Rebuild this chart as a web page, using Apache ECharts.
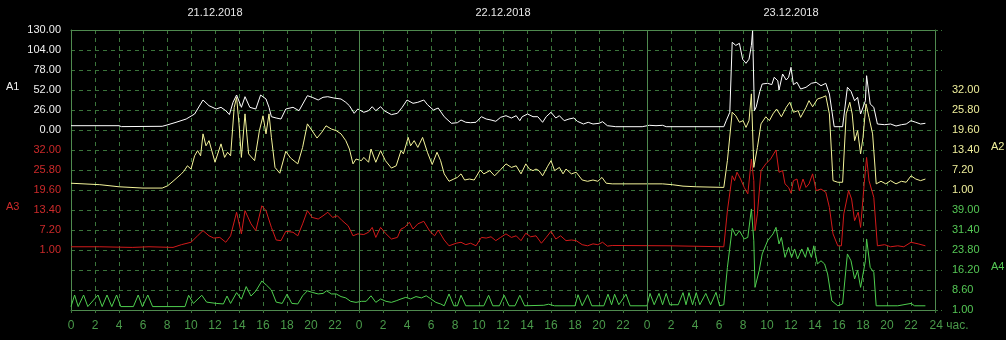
<!DOCTYPE html>
<html><head><meta charset="utf-8">
<script src="https://cdn.jsdelivr.net/npm/echarts@6/dist/echarts.min.js"></script>
<style>html,body{margin:0;padding:0;background:#000;}#c{width:1006px;height:340px;}</style>
</head><body><div id="c"></div>
<script>
// ---- data ----
const dates = ['21.12.2018', '22.12.2018', '23.12.2018'];
const dateHours = [12, 36, 60];
const a1Ticks = [0, 26, 52, 78, 104, 130];
const a2Ticks = [1, 7.2, 13.4, 19.6, 25.8, 32];
const a3Ticks = [1, 7.2, 13.4, 19.6, 25.8, 32];
const a4Ticks = [1, 8.6, 16.2, 23.8, 31.4, 39];
const dayBounds = [24, 48];

// A1 (white) [hour, value]
const a1 = [[0,5.6],[4,5.6],[4.2,4.4],[7.6,4.8],[8,6.5],[8.75,10],[9.6,14.3],[10.3,20.8],[11.0,39],[11.5,31.6],[12.1,27.3],[12.5,29.5],[12.9,25.1],[13.2,20],[13.5,36],[13.8,45.5],[14.2,29.5],[14.5,43.3],[14.9,29.5],[15.4,27.3],[15.8,45.5],[16.25,40.3],[16.5,29.5],[16.7,17.3],[17.1,15.6],[17.5,14.3],[17.9,27.3],[18.5,29.5],[19.0,25.1],[19.7,44.6],[20.1,42.5],[20.6,39],[21.0,42.5],[21.4,43.3],[21.9,41.6],[22.5,40.3],[22.9,36],[23.2,31.6],[23.6,21.7],[23.9,27.3],[24.4,23],[24.8,25.1],[25.1,30.3],[25.4,25.1],[25.8,30.3],[26.1,25.1],[26.7,20],[27.2,21.7],[27.6,29.5],[28.0,39],[28.5,34.7],[28.9,36],[29.4,39],[29.7,33],[30.2,26],[30.6,28.6],[31.1,17.3],[31.7,8.7],[32.2,9.5],[32.5,13],[32.9,10],[33.3,9.5],[33.75,10],[34.2,17.3],[34.6,14.3],[35.0,13],[35.4,11.3],[35.8,16.5],[36.25,18.6],[36.7,15.6],[37.1,18.6],[37.4,12.1],[37.6,17.3],[38.05,20.8],[38.5,17.3],[38.9,17.3],[39.3,10],[39.6,17.3],[40.0,23],[40.4,15.6],[40.7,18.6],[41.1,12.1],[41.5,14.3],[41.9,15.6],[42.2,11.3],[42.7,7.8],[43.1,10],[43.5,7.8],[44.0,8.7],[44.3,10.8],[44.7,5.6],[45.4,4.3],[47.6,4.3],[48.2,6.1],[48.75,5.6],[49.3,6.1],[49.6,4.3],[54.4,4.3],[54.6,12],[54.9,23],[55.1,114],[55.4,110],[55.7,112.7],[55.97,92],[56.25,86.7],[56.5,92],[56.7,110],[56.8,129],[56.95,25],[57.1,30],[57.4,50],[57.6,59.8],[58.05,60.7],[58.4,59],[58.6,68.5],[58.9,64],[59.0,52],[59.3,72.8],[59.6,65],[59.8,68.5],[60.0,81.5],[60.2,59],[60.5,62],[60.8,53.3],[61.25,55.5],[61.7,60.7],[62.1,62],[62.5,57.6],[62.9,60.7],[63.2,46.8],[63.6,4.3],[64.3,4.3],[64.7,55.5],[65.0,50.3],[65.3,38],[65.55,42.5],[65.8,20.8],[66.2,38],[66.3,70.6],[66.6,33.8],[66.9,29.5],[67.2,7.8],[67.8,6.9],[68.3,7.8],[68.75,5.2],[69.2,6.9],[69.6,7.8],[70.0,12.1],[70.4,10],[70.8,7.8],[71.2,8.7]];

// A2 (yellow)
const a2 = [[0,3.1],[2.4,2.65],[4,2.0],[6,1.6],[7.6,1.6],[8.05,2.3],[8.5,3.7],[9.2,6.0],[9.4,6.8],[9.7,8.5],[10.0,7.5],[10.3,11.6],[10.55,13.2],[10.8,11.6],[11.0,18.4],[11.25,14.7],[11.5,16.3],[12.0,9.6],[12.5,15.3],[12.8,11.1],[13.05,12.7],[13.3,11.6],[13.6,26.6],[13.8,29.7],[14.0,21.5],[14.2,11.1],[14.5,24.6],[14.8,12.2],[15.3,10.1],[15.7,19.4],[16.0,24],[16.25,18.4],[16.5,24.6],[16.7,17.3],[17.0,8.0],[17.4,6.2],[17.9,13.0],[18.3,10.9],[18.9,9.1],[19.3,14.2],[19.7,21.5],[20.0,19.9],[20.5,17.1],[20.9,18.9],[21.25,20.9],[21.7,19.9],[22.1,19.4],[22.5,18.4],[22.9,16.3],[23.2,13.7],[23.5,9.1],[23.75,10.6],[24.2,10.1],[24.4,11.1],[24.8,9.6],[25.0,13.7],[25.4,9.6],[25.8,13.2],[26.2,10.1],[26.7,7.8],[27.1,8.5],[27.5,13.2],[27.7,12.2],[28.1,17.3],[28.3,14.7],[28.6,16.3],[28.9,14.2],[29.3,17.3],[29.7,12.7],[30.1,8.9],[30.5,12.7],[30.8,10.1],[31.1,6.0],[31.5,3.7],[31.9,4.4],[32.2,4.9],[32.5,6.0],[32.8,4.1],[33.2,4.4],[33.6,4.1],[34.1,7.2],[34.4,6.0],[34.9,7.0],[35.3,5.4],[35.8,7.3],[36.25,9.1],[36.7,8.0],[37.1,8.5],[37.5,6.0],[37.9,9.1],[38.2,7.5],[38.5,7.0],[38.75,7.5],[39.0,7.0],[39.3,5.4],[39.7,8.2],[40.0,10.1],[40.3,7.0],[40.7,8.0],[41.0,6.0],[41.25,7.5],[41.7,6.0],[42.1,6.5],[42.6,4.1],[43.05,3.7],[43.5,4.1],[43.9,3.7],[44.25,4.9],[44.6,3.1],[45.1,2.9],[49.3,2.9],[50.1,2.65],[51.0,2.2],[52.1,2.0],[54.4,1.8],[54.7,10.1],[55.1,25.1],[55.4,24],[55.7,22],[56.0,22.5],[56.25,20.4],[56.5,22.5],[56.7,30.8],[56.9,8.0],[57.2,14.2],[57.5,21.5],[57.9,23.7],[58.2,22.5],[58.5,24.6],[58.8,26.1],[59.2,23.7],[59.6,26.6],[59.9,28.2],[60.2,25.1],[60.6,25.6],[60.8,23.5],[61.25,26.6],[61.5,28.7],[61.8,26.8],[62.2,29.2],[62.6,29.7],[62.9,30.2],[63.2,24.6],[63.5,3.9],[63.9,3.4],[64.3,3.4],[64.6,24.6],[64.9,28.2],[65.1,24.6],[65.3,16.3],[65.55,19.4],[65.8,12.2],[66.0,17.3],[66.25,27.7],[66.5,23.5],[66.8,18.4],[67.1,2.9],[67.5,3.7],[67.9,2.9],[68.3,3.9],[68.75,2.9],[69.2,3.7],[69.6,3.4],[70.0,5.4],[70.4,4.4],[70.8,3.9],[71.2,4.4]];

// A3 (red)
const a3 = [[0,2.0],[2.4,2.0],[5.1,1.8],[6.5,2.0],[8.5,1.8],[9.2,2.65],[10.0,3.4],[10.55,5.4],[11.0,7.0],[11.5,5.4],[11.9,4.7],[12.4,4.9],[12.9,3.4],[13.3,5.4],[13.8,12.7],[14.2,6.0],[14.5,13.2],[15.0,9.1],[15.4,7.0],[15.9,14.7],[16.25,13.2],[16.7,8.0],[17.1,4.1],[17.5,3.9],[17.9,6.8],[18.5,6.5],[18.9,5.4],[19.3,9.1],[19.7,13.2],[20.1,11.1],[20.6,10.6],[21.0,11.6],[21.4,12.7],[21.8,11.1],[22.2,11.6],[22.6,10.1],[23.1,8.5],[23.5,5.4],[23.9,6.0],[24.4,5.8],[24.8,6.5],[25.1,8.0],[25.4,4.9],[25.8,8.0],[26.2,6.2],[26.7,4.4],[27.2,4.9],[27.5,7.5],[27.8,8.0],[28.2,9.6],[28.5,7.5],[28.9,9.1],[29.4,9.9],[29.9,6.8],[30.3,5.4],[30.6,7.2],[31.1,4.1],[31.5,2.3],[32.1,3.1],[32.5,3.4],[32.9,2.65],[33.3,3.1],[33.75,2.3],[34.2,4.9],[34.6,4.7],[35.0,5.1],[35.4,3.9],[35.8,4.9],[36.25,6.0],[36.7,4.9],[37.1,5.4],[37.5,3.9],[37.9,6.2],[38.3,5.1],[38.75,5.4],[39.2,3.1],[39.6,4.9],[40.0,6.8],[40.4,4.4],[40.8,5.4],[41.25,3.9],[41.7,4.1],[42.1,3.9],[42.6,2.65],[43.05,2.3],[43.5,2.9],[43.9,2.65],[44.3,3.4],[44.7,2.2],[45.1,2.4],[50,2.3],[54.4,2.0],[54.7,13.2],[55.1,24],[55.3,22.5],[55.5,25.1],[55.8,23],[56.1,20.4],[56.4,18.4],[56.7,29.2],[56.9,22.5],[57.0,7.0],[57.2,12.2],[57.5,25.6],[57.9,27.7],[58.3,29.2],[58.75,32],[59.0,25.1],[59.3,25.6],[59.5,21.5],[59.8,20.4],[60.0,18.6],[60.2,22.5],[60.5,23],[60.7,19.4],[61.0,23],[61.25,20.4],[61.5,21.5],[61.8,24.6],[62.1,19.4],[62.5,19.9],[62.9,18.9],[63.2,14.2],[63.5,6.0],[63.9,2.3],[64.2,2.3],[64.4,12.2],[64.8,19.4],[65.05,16.8],[65.3,10.1],[65.6,12.7],[65.8,8.0],[66.1,21.5],[66.3,29.7],[66.5,22.5],[66.9,17.3],[67.2,2.3],[67.8,2.65],[68.3,2.0],[68.9,2.3],[69.4,2.0],[70.0,3.4],[70.6,2.9],[71.2,2.3]];

// A4 (green)
const a4 = [[0,2.3],[0.3,6.7],[0.6,2.3],[1.05,6.7],[1.4,2.3],[2.25,6.7],[2.6,2.3],[3.0,6.7],[3.4,2.3],[3.8,6.7],[4.15,2.3],[5.2,2.3],[5.6,6.7],[5.95,2.3],[6.4,6.7],[6.8,2.3],[9.5,2.3],[9.8,6.6],[10.2,3.5],[10.9,6.6],[11.3,4.0],[12.1,3.5],[12.7,3.3],[13.0,6.3],[13.3,3.5],[13.8,7.6],[14.2,5.1],[14.6,9.9],[15.0,6.3],[15.4,8.2],[15.9,12],[16.3,10.4],[16.7,8.6],[17.1,4.0],[17.6,3.5],[18.0,7.0],[18.4,3.5],[18.9,3.3],[19.3,6.4],[19.7,8.3],[20.1,7.7],[20.6,7.1],[21.0,7.3],[21.3,8.3],[21.7,7.1],[22.1,7.1],[22.5,6.1],[22.9,5.6],[23.3,4.3],[23.75,3.9],[24.2,4.3],[24.6,4.3],[25.0,6.4],[25.4,3.9],[25.8,5.2],[26.25,4.3],[26.7,3.9],[27.1,4.5],[27.5,5.2],[27.9,5.8],[28.3,5.2],[28.75,6.1],[29.2,5.6],[29.6,6.4],[30.0,5.2],[30.4,3.9],[30.8,3.3],[31.1,2.6],[31.5,7.1],[31.9,2.6],[32.2,2.6],[32.5,6.6],[32.9,2.6],[34.4,2.6],[34.8,6.6],[35.15,2.6],[35.7,2.6],[36.1,6.6],[36.5,2.6],[37.0,2.6],[37.4,6.6],[37.8,2.6],[39.4,2.8],[39.8,3.2],[40.3,2.6],[42.0,2.6],[42.25,6.8],[42.6,2.6],[43.05,6.8],[43.4,2.6],[44.4,2.6],[44.75,7.0],[45.05,3.0],[45.3,7.0],[45.65,3.0],[46.25,7.0],[46.6,2.6],[48.0,2.6],[48.25,7.3],[48.6,3.0],[49.0,7.3],[49.3,3.0],[49.6,7.3],[49.9,3.0],[50.6,3.0],[51.0,7.6],[51.25,3.0],[51.5,7.6],[51.8,3.0],[52.1,7.6],[52.4,3.0],[52.9,7.3],[53.3,3.0],[53.75,7.7],[54.05,2.6],[54.4,3.0],[54.7,17.2],[55.1,32],[55.4,29.2],[55.7,31.1],[56.1,28],[56.4,28.6],[56.7,39.4],[56.9,27.3],[57.0,9.6],[57.35,16],[57.6,22.3],[58.05,27.3],[58.5,29.9],[58.75,32.4],[59.0,26.1],[59.2,28.6],[59.5,21],[59.8,24.8],[60.05,21],[60.3,24.2],[60.55,20.4],[60.9,24.2],[61.2,21],[61.4,24.8],[61.7,21],[61.9,25.4],[62.2,18.5],[62.5,19.7],[62.8,18.5],[63.05,14.7],[63.4,4.5],[63.9,2.6],[64.3,3.3],[64.7,22.3],[65.0,19.7],[65.3,12.8],[65.55,16],[65.8,9.6],[66.2,19.7],[66.3,28],[66.6,17.2],[66.9,15.3],[67.1,2.6],[68.9,2.6],[70.0,3.5],[70.3,2.6],[71.2,2.6]];

// ---- styling ----
const FONT = "'Liberation Sans', Arial, sans-serif";
const GRID_DASH = '#3b753b';
const GRID_SOLID = '#4f8a4f';
const C1 = '#ffffff', C2 = '#f4f49a', C3 = '#d21a1a', C4 = '#4fcf4f';
const C2L = '#eeee9a', C3L = '#cc2a2a', C4L = '#55c855';

const chart = echarts.init(document.getElementById('c'), null, {renderer: 'canvas'});

function dataAxis(opt) {
  return Object.assign({
    type: 'value', gridIndex: 0, scale: true,
    splitLine: {show: false}, axisTick: {show: false},
    axisLine: {show: false, onZero: false}
  }, opt);
}

const option = {
  backgroundColor: '#000',
  animation: false,
  grid: {left: 71, right: 71, top: 30, height: 280, containLabel: false},
  xAxis: [
    {
      type: 'value', min: 0, max: 72, interval: 2, position: 'bottom',
      axisLine: {show: true, onZero: false, lineStyle: {color: GRID_SOLID, width: 1}},
      axisTick: {show: true, length: 3, lineStyle: {color: GRID_DASH}},
      splitLine: {show: true, lineStyle: {color: GRID_DASH, type: [4, 4], width: 1}},
      axisLabel: {
        color: '#4a9a4a', fontFamily: FONT, fontSize: 12, margin: 10,
        interval: 0, showMinLabel: true, showMaxLabel: true, hideOverlap: false,
        formatter: v => v === 72 ? '{end|24 час.}' : String(v % 24),
        rich: {end: {color: '#4a9a4a', fontFamily: FONT, fontSize: 12, padding: [0, 0, 0, 28]}}
      }
    },
    {
      type: 'value', min: 0, max: 72, position: 'top',
      axisLine: {show: true, onZero: false, lineStyle: {color: GRID_SOLID, width: 1}},
      axisTick: {show: false}, splitLine: {show: false},
      axisLabel: {
        color: '#e8e8e8', fontFamily: FONT, fontSize: 11, margin: 12,
        customValues: dateHours,
        formatter: v => dates[dateHours.indexOf(v)] || ''
      }
    }
  ],
  yAxis: [
    // grid helper (dashed horizontal lines + right border with short extensions)
    {
      type: 'value', min: 0, max: 14, interval: 1, position: 'right',
      axisLine: {show: true, onZero: false, lineStyle: {color: GRID_SOLID, width: 1}},
      axisTick: {show: true, length: 7, lineStyle: {color: GRID_DASH, type: [3, 3]}},
      axisLabel: {show: false},
      splitLine: {show: true, lineStyle: {color: GRID_DASH, type: [4, 4], width: 1}}
    },
    dataAxis({
      position: 'left', min: -234, max: 130,
      axisLine: {show: true, onZero: false, lineStyle: {color: GRID_SOLID, width: 1}},
      axisLabel: {color: '#f0f0f0', fontFamily: FONT, fontSize: 11, margin: 10,
        customValues: a1Ticks, formatter: v => v.toFixed(2)}
    }),
    dataAxis({
      position: 'right', min: -36.2, max: 50.6,
      axisLabel: {color: C2L, fontFamily: FONT, fontSize: 11, margin: 17,
        customValues: a2Ticks, formatter: v => v.toFixed(2)}
    }),
    dataAxis({
      position: 'left', min: -17.6, max: 69.2,
      axisLabel: {color: C3L, fontFamily: FONT, fontSize: 11, margin: 10,
        customValues: a3Ticks, formatter: v => v.toFixed(2)}
    }),
    dataAxis({
      position: 'right', min: 1, max: 107.4,
      axisLabel: {color: C4L, fontFamily: FONT, fontSize: 11, margin: 17,
        customValues: a4Ticks, formatter: v => v.toFixed(2)}
    })
  ],
  graphic: [
    {type: 'text', left: 6, top: 81, style: {text: 'A1', fill: '#f0f0f0', font: '11px ' + FONT}},
    {type: 'text', left: 6, top: 201, style: {text: 'A3', fill: C3L, font: '11px ' + FONT}},
    {type: 'text', left: 991, top: 141, style: {text: 'A2', fill: C2L, font: '11px ' + FONT}},
    {type: 'text', left: 991, top: 261, style: {text: 'A4', fill: C4L, font: '11px ' + FONT}}
  ],
  series: [
    {
      type: 'line', name: 'A4', xAxisIndex: 0, yAxisIndex: 4, data: a4,
      showSymbol: false, lineStyle: {color: C4, width: 1}, itemStyle: {color: C4},
      markLine: {
        silent: true, symbol: 'none', label: {show: false},
        lineStyle: {color: GRID_SOLID, type: 'solid', width: 1},
        data: dayBounds.map(h => ({xAxis: h}))
      }
    },
    {type: 'line', name: 'A3', xAxisIndex: 0, yAxisIndex: 3, data: a3,
      showSymbol: false, lineStyle: {color: C3, width: 1}, itemStyle: {color: C3}},
    {type: 'line', name: 'A2', xAxisIndex: 0, yAxisIndex: 2, data: a2,
      showSymbol: false, lineStyle: {color: C2, width: 1}, itemStyle: {color: C2}},
    {type: 'line', name: 'A1', xAxisIndex: 0, yAxisIndex: 1, data: a1,
      showSymbol: false, lineStyle: {color: C1, width: 1}, itemStyle: {color: C1}}
  ]
};
chart.setOption(option);
</script></body></html>
